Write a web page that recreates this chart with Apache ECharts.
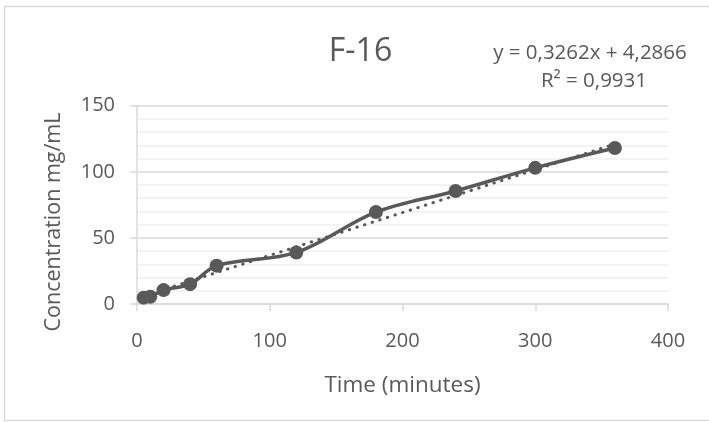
<!DOCTYPE html>
<html>
<head>
<meta charset="utf-8">
<script src="https://cdn.jsdelivr.net/npm/echarts@6/dist/echarts.min.js"></script>
<style>
  html, body { margin: 0; padding: 0; background: #ffffff; }
  #chart { width: 709px; height: 422px; }
</style>
</head>
<body>
<div id="chart"></div>
<script>
// ---- data ----
const chartTitle = 'F-16';
const xAxisTitle = 'Time (minutes)';
const yAxisTitle = 'Concentration mg/mL';
const equationLine1 = 'y = 0,3262x + 4,2866';
const equationLine2 = 'R\u00B2 = 0,9931';

const timeMin = [5, 10, 20, 40, 60, 120, 180, 240, 300, 360];
const concentration = [4.8, 5.5, 10.5, 15, 29, 39, 69.5, 85.5, 103, 118];

// linear trendline end points (as drawn)
const trendX = [5, 360];
const trendY = [6, 121];

const xTicks = [0, 100, 200, 300, 400];
const yTicks = [0, 50, 100, 150];

// ---- chart ----
const FONT = '"Open Sans", sans-serif';
const TEXT = '#595959';
const chart = echarts.init(document.getElementById('chart'), null, { renderer: 'canvas' });

const option = {
  animation: false,
  backgroundColor: '#ffffff',
  grid: { left: 137, right: 41, top: 105.7, bottom: 118, containLabel: false },
  xAxis: {
    type: 'value',
    min: xTicks[0],
    max: xTicks[xTicks.length - 1],
    interval: 100,
    name: xAxisTitle,
    nameLocation: 'middle',
    nameGap: 70,
    nameTextStyle: { fontFamily: FONT, fontSize: 22.5, color: TEXT },
    axisLine: { show: true, lineStyle: { color: '#d9d9d9', width: 1.5 } },
    axisTick: { show: true, length: 7, lineStyle: { color: '#d9d9d9', width: 1.5 } },
    axisLabel: { fontFamily: FONT, fontSize: 20, color: TEXT, margin: 27 },
    splitLine: { show: false }
  },
  yAxis: {
    type: 'value',
    min: yTicks[0],
    max: yTicks[yTicks.length - 1],
    interval: 50,
    axisLine: { show: true, lineStyle: { color: '#d9d9d9', width: 1.5 } },
    axisTick: { show: true, length: 7, lineStyle: { color: '#d9d9d9', width: 1.5 } },
    axisLabel: { fontFamily: FONT, fontSize: 20, color: TEXT, margin: 22 },
    splitLine: { show: true, lineStyle: { color: '#d9d9d9', width: 1.5 } },
    minorTick: { show: false, splitNumber: 5 },
    minorSplitLine: { show: true, lineStyle: { color: '#efefef', width: 1.5 } }
  },
  graphic: [
    {
      type: 'rect',
      shape: { x: 4.5, y: 6.5, width: 710, height: 414 },
      style: { fill: 'none', stroke: '#d9d9d9', lineWidth: 1.5 },
      silent: true, z: -1
    },
    {
      type: 'text', x: 360.5, y: 52,
      style: { text: chartTitle, font: '32px ' + FONT, fill: TEXT, textAlign: 'center', textVerticalAlign: 'middle' }
    },
    {
      type: 'text', x: 590, y: 53,
      style: { text: equationLine1, font: '20.5px ' + FONT, fill: TEXT, textAlign: 'center', textVerticalAlign: 'middle' }
    },
    {
      type: 'text', x: 594, y: 81,
      style: { text: equationLine2, font: '20.5px ' + FONT, fill: TEXT, textAlign: 'center', textVerticalAlign: 'middle' }
    },
    {
      type: 'text', x: 54, y: 222, rotation: Math.PI / 2,
      style: { text: yAxisTitle, font: '21.5px ' + FONT, fill: TEXT, textAlign: 'center', textVerticalAlign: 'middle' }
    }
  ],
  series: [
    {
      name: 'Trendline',
      type: 'line',
      data: trendX.map((x, i) => [x, trendY[i]]),
      showSymbol: false,
      symbol: 'none',
      lineStyle: { color: '#595959', width: 3, type: [0.5, 7.5], cap: 'round' },
      z: 3
    },
    {
      name: 'F-16',
      type: 'line',
      data: timeMin.map((t, i) => [t, concentration[i]]),
      smooth: 0.35,
      symbol: 'circle',
      symbolSize: 14,
      itemStyle: { color: '#595959' },
      lineStyle: { color: '#595959', width: 3.5 },
      z: 4
    }
  ]
};
chart.setOption(option);
</script>
</body>
</html>
